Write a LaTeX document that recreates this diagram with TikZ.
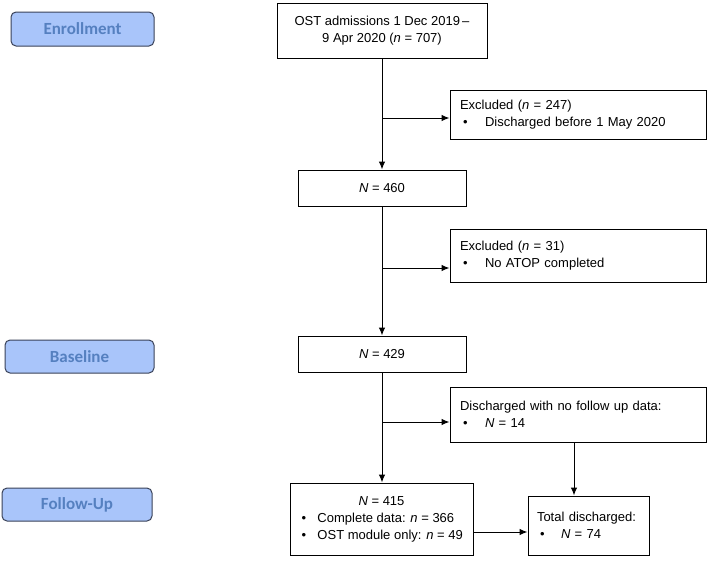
\documentclass[tikz,border=0pt]{standalone}
\usepackage{fontspec}
\setmainfont{Liberation Sans}
\newfontfamily\stagefont{Carlito}
\usetikzlibrary{arrows.meta}
\definecolor{stagefill}{HTML}{A9C5FA}
\definecolor{stagetext}{HTML}{5580C0}
\definecolor{stageline}{HTML}{3A4258}
\newcommand{\bul}[2][22pt]{\hspace*{3pt}\makebox[#1][l]{\textbullet}#2}

\begin{document}
\begin{tikzpicture}[x=1pt,y=-1pt,
    flowbox/.style={draw,line width=1pt,inner sep=0pt,font=\fontsize{13}{17}\selectfont,align=center},
    listbox/.style={flowbox,align=left,inner xsep=10pt,text width=#1},
    stagebox/.style={draw=stageline,line width=1pt,fill=stagefill,rounded corners=5pt,text=stagetext,font=\stagefont\bfseries\fontsize{17}{20}\selectfont},
    arr/.style={-{Latex[length=8pt,width=6.5pt]},line width=1pt}]
        \useasboundingbox (0,0) rectangle (709,560);

        % stages
        \node[stagebox,minimum width=143pt,minimum height=34pt] (enrol) at (82.5,29) {Enrollment};
        \node[stagebox,minimum width=149pt,minimum height=33pt] (base) at (79.5,356.5) {Baseline};
        \node[stagebox,minimum width=150pt,minimum height=33pt] (fup) at (77,504.5) {Follow-Up};

        % main column
        \node[flowbox,minimum width=210pt,minimum height=55pt] (ost) at (382,30.5) {OST admissions 1 Dec 2019\,–\\9 Apr 2020 (\textit{n} = 707)};
        \node[flowbox,minimum width=168pt,minimum height=36pt] (n460) at (382,188) {\textit{N} = 460};
        \node[flowbox,minimum width=168pt,minimum height=36pt] (n429) at (382,354) {\textit{N} = 429};
        \node[flowbox,minimum width=183pt,minimum height=72pt] (n415) at (381.5,519) {\textit{N} = 415\\\makebox[166pt][l]{\bul[16pt]{Complete data: \textit{n} = 366}}\\\makebox[166pt][l]{\bul[16pt]{OST module only: \textit{n} = 49}}};

        % side boxes
        \node[listbox=236pt,minimum height=49pt] (excl1) at (578,114.5) {Excluded (\textit{n} = 247)\\\bul{Discharged before 1 May 2020}};
        \node[listbox=236pt,minimum height=53pt] (excl2) at (578,255.5) {Excluded (\textit{n} = 31)\\\bul{No ATOP completed}};
        \node[listbox=236pt,minimum height=55pt] (disc) at (578,414.5) {Discharged with no follow up data:\\\bul{\textit{N} = 14}};
        \node[listbox=103pt,inner xsep=9pt,minimum height=59pt] (tot) at (588.5,525.5) {Total discharged:\\\bul[21pt]{\textit{N} = 74}};

        \draw[arr] (ost) -- (n460);
        \draw[arr] ([yshift=-3.5pt]excl1.west -| ost.south) -- ([yshift=-3.5pt]excl1.west);
        \draw[arr] (n460) -- (n429);
        \draw[arr] ([yshift=-12.5pt]excl2.west -| n460.south) -- ([yshift=-12.5pt]excl2.west);
        \draw[arr] (n429.south) -- (n429.south |- n415.north);
        \draw[arr] ([yshift=-7.5pt]disc.west -| n429.south) -- ([yshift=-7.5pt]disc.west);
        \coordinate (totin) at ([xshift=-14.5pt]tot.north);
        \draw[arr] (disc.south -| totin) -- (totin);
        \draw[arr] ([yshift=-13pt]n415.east) -- ([yshift=-13pt]n415.east -| tot.west);

    \end{tikzpicture}
\end{document}
